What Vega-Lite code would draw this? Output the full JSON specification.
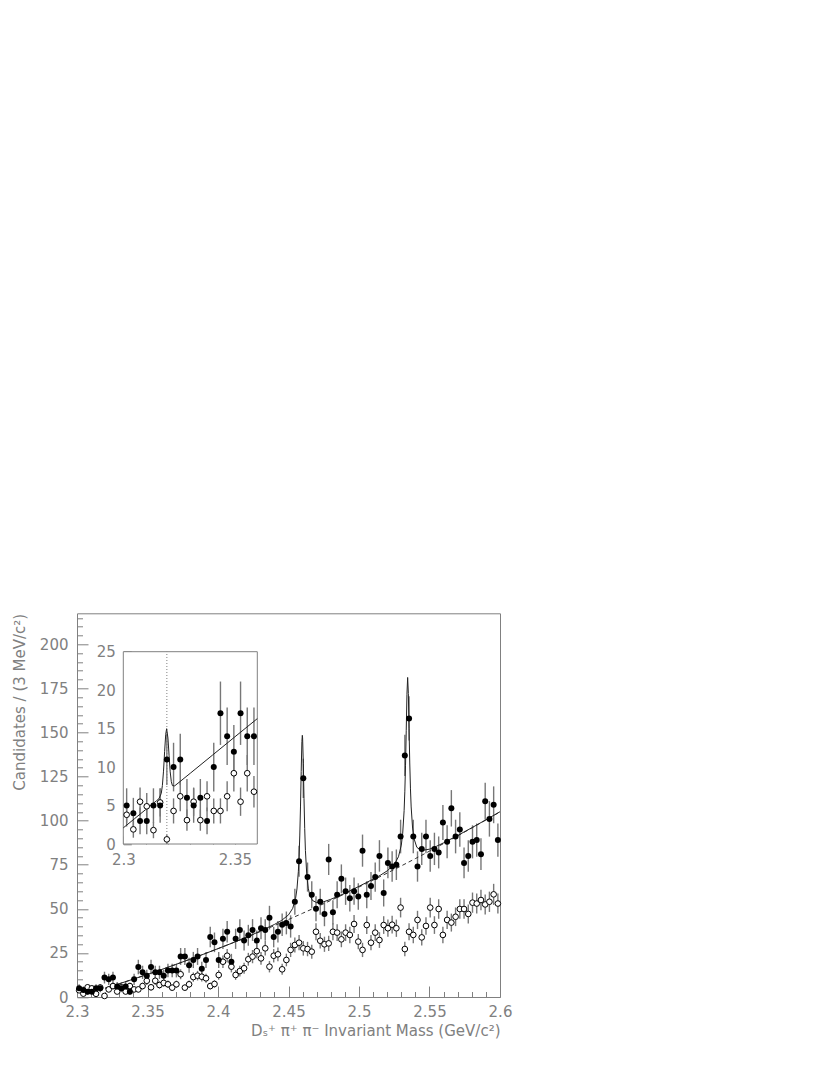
{
  "$schema": "https://vega.github.io/schema/vega-lite/v6.json",
  "width": 423,
  "height": 383.7,
  "autosize": {"type": "none"},
  "padding": {"left": 77, "top": 613.3, "right": 330, "bottom": 78},
  "background": "white",
  "config": {
    "view": {"stroke": "#808080", "strokeWidth": 1},
    "axis": {
      "labelFont": "DejaVu Sans", "labelFontSize": 15, "labelColor": "#808080",
      "titleFont": "DejaVu Sans", "titleFontSize": 15, "titleColor": "#808080", "titleFontWeight": "normal",
      "tickColor": "#808080", "tickWidth": 1, "domain": false, "grid": false, "zindex": 1,
      "labelFlush": false, "labelOverlap": false
    }
  },
  "datasets": {
    "bins": [
      {"m":2.3015,"s":5,"se":2.24,"o":3.8,"oe":1.53},
      {"m":2.3045,"s":4,"se":2,"o":1.9,"oe":1.08},
      {"m":2.3075,"s":3,"se":1.73,"o":5.5,"oe":1.84},
      {"m":2.3105,"s":3,"se":1.73,"o":4.9,"oe":1.74},
      {"m":2.3135,"s":5,"se":2.24,"o":1.8,"oe":1.05},
      {"m":2.3165,"s":5,"se":2.24,"o":5.4,"oe":1.82},
      {"m":2.3195,"s":11,"se":3.32,"o":0.6,"oe":0.61},
      {"m":2.3225,"s":10,"se":3.16,"o":4.3,"oe":1.63},
      {"m":2.3255,"s":11,"se":3.32,"o":6.2,"oe":1.95},
      {"m":2.3285,"s":6,"se":2.45,"o":3.1,"oe":1.38},
      {"m":2.3315,"s":5,"se":2.24,"o":5.5,"oe":1.84},
      {"m":2.3345,"s":6,"se":2.45,"o":3.1,"oe":1.38},
      {"m":2.3375,"s":3,"se":1.73,"o":6.2,"oe":1.95},
      {"m":2.3405,"s":10,"se":3.16,"o":4.3,"oe":1.63},
      {"m":2.3435,"s":17,"se":4.12,"o":4.3,"oe":1.63},
      {"m":2.3465,"s":14,"se":3.74,"o":6.2,"oe":1.95},
      {"m":2.3495,"s":12,"se":3.46,"o":9.2,"oe":2.38},
      {"m":2.3525,"s":17,"se":4.12,"o":5.5,"oe":1.84},
      {"m":2.3555,"s":14,"se":3.74,"o":9.2,"oe":2.38},
      {"m":2.3585,"s":14,"se":3.74,"o":6.8,"oe":2.05},
      {"m":2.3615,"s":12,"se":3.46,"o":8,"oe":2.22},
      {"m":2.3645,"s":15,"se":3.87,"o":7.2,"oe":2.1},
      {"m":2.3675,"s":15,"se":3.87,"o":5.3,"oe":1.81},
      {"m":2.3705,"s":15,"se":3.87,"o":7.2,"oe":2.1},
      {"m":2.3735,"s":23,"se":4.8,"o":12.9,"oe":2.82},
      {"m":2.3765,"s":23,"se":4.8,"o":5.3,"oe":1.81},
      {"m":2.3795,"s":18,"se":4.24,"o":7.2,"oe":2.1},
      {"m":2.3825,"s":21,"se":4.58,"o":11.3,"oe":2.64},
      {"m":2.3855,"s":23,"se":4.8,"o":12.1,"oe":2.73},
      {"m":2.3885,"s":16,"se":4,"o":11.5,"oe":2.66},
      {"m":2.3915,"s":21,"se":4.58,"o":10.6,"oe":2.55},
      {"m":2.3945,"s":34,"se":5.83,"o":6.2,"oe":1.95},
      {"m":2.3975,"s":31,"se":5.57,"o":7.4,"oe":2.13},
      {"m":2.4005,"s":21,"se":4.58,"o":12.5,"oe":2.77},
      {"m":2.4035,"s":33,"se":5.74,"o":20,"oe":3.51},
      {"m":2.4065,"s":37,"se":6.08,"o":23.4,"oe":3.79},
      {"m":2.4095,"s":20,"se":4.47,"o":17.2,"oe":3.25},
      {"m":2.4125,"s":33,"se":5.74,"o":12.5,"oe":2.77},
      {"m":2.4155,"s":38,"se":6.16,"o":14.7,"oe":3.01},
      {"m":2.4185,"s":32,"se":5.66,"o":16.3,"oe":3.17},
      {"m":2.4215,"s":35,"se":5.92,"o":21.4,"oe":3.63},
      {"m":2.4245,"s":38,"se":6.16,"o":22.9,"oe":3.75},
      {"m":2.4275,"s":32,"se":5.66,"o":26,"oe":4},
      {"m":2.4305,"s":39,"se":6.24,"o":21.9,"oe":3.67},
      {"m":2.4335,"s":38,"se":6.16,"o":27.6,"oe":4.12},
      {"m":2.4365,"s":45,"se":6.71,"o":17.2,"oe":3.25},
      {"m":2.4395,"s":34,"se":5.83,"o":23.4,"oe":3.79},
      {"m":2.4425,"s":37,"se":6.08,"o":24.2,"oe":3.86},
      {"m":2.4455,"s":41,"se":6.4,"o":15.7,"oe":3.11},
      {"m":2.4485,"s":42,"se":6.48,"o":21,"oe":3.59},
      {"m":2.4515,"s":40,"se":6.32,"o":26.7,"oe":4.05},
      {"m":2.4545,"s":54,"se":7.35,"o":29.5,"oe":4.26},
      {"m":2.4575,"s":77,"se":8.77,"o":30.8,"oe":4.35},
      {"m":2.4605,"s":124,"se":11.14,"o":27.6,"oe":4.12},
      {"m":2.4635,"s":68,"se":8.25,"o":27.2,"oe":4.09},
      {"m":2.4665,"s":58,"se":7.62,"o":25.7,"oe":3.98},
      {"m":2.4695,"s":50,"se":7.07,"o":37,"oe":4.77},
      {"m":2.4725,"s":54,"se":7.35,"o":31.9,"oe":4.43},
      {"m":2.4755,"s":47,"se":6.86,"o":29.9,"oe":4.29},
      {"m":2.4785,"s":78,"se":8.83,"o":30.4,"oe":4.32},
      {"m":2.4815,"s":48,"se":6.93,"o":37,"oe":4.77},
      {"m":2.4845,"s":58,"se":7.62,"o":36.5,"oe":4.74},
      {"m":2.4875,"s":67,"se":8.19,"o":32.7,"oe":4.48},
      {"m":2.4905,"s":60,"se":7.75,"o":36.5,"oe":4.74},
      {"m":2.4935,"s":56,"se":7.48,"o":35.2,"oe":4.65},
      {"m":2.4965,"s":60,"se":7.75,"o":41.4,"oe":5.05},
      {"m":2.4995,"s":57,"se":7.55,"o":31.4,"oe":4.39},
      {"m":2.5025,"s":83,"se":9.11,"o":26.7,"oe":4.05},
      {"m":2.5055,"s":58,"se":7.62,"o":40.8,"oe":5.01},
      {"m":2.5085,"s":63,"se":7.94,"o":30.8,"oe":4.35},
      {"m":2.5115,"s":68,"se":8.25,"o":36.5,"oe":4.74},
      {"m":2.5145,"s":80,"se":8.94,"o":32.3,"oe":4.46},
      {"m":2.5175,"s":59,"se":7.68,"o":40.8,"oe":5.01},
      {"m":2.5205,"s":76,"se":8.72,"o":39,"oe":4.9},
      {"m":2.5235,"s":74,"se":8.6,"o":41,"oe":5.02},
      {"m":2.5265,"s":75,"se":8.66,"o":39,"oe":4.9},
      {"m":2.5295,"s":91,"se":9.54,"o":50.7,"oe":5.58},
      {"m":2.5325,"s":137,"se":11.7,"o":27.2,"oe":4.09},
      {"m":2.5355,"s":158,"se":12.57,"o":37,"oe":4.77},
      {"m":2.5385,"s":91,"se":9.54,"o":35.2,"oe":4.65},
      {"m":2.5415,"s":74,"se":8.6,"o":43.7,"oe":5.18},
      {"m":2.5445,"s":84,"se":9.17,"o":33.8,"oe":4.56},
      {"m":2.5475,"s":91,"se":9.54,"o":40.3,"oe":4.98},
      {"m":2.5505,"s":80,"se":8.94,"o":50.7,"oe":5.58},
      {"m":2.5535,"s":84,"se":9.17,"o":40.8,"oe":5.01},
      {"m":2.5565,"s":82,"se":9.06,"o":49.9,"oe":5.54},
      {"m":2.5595,"s":99,"se":9.95,"o":35.2,"oe":4.65},
      {"m":2.5625,"s":88,"se":9.38,"o":43.7,"oe":5.18},
      {"m":2.5655,"s":107,"se":10.34,"o":42.2,"oe":5.09},
      {"m":2.5685,"s":91,"se":9.54,"o":45.5,"oe":5.29},
      {"m":2.5715,"s":95,"se":9.75,"o":49.9,"oe":5.54},
      {"m":2.5745,"s":76,"se":8.72,"o":49.9,"oe":5.54},
      {"m":2.5775,"s":80,"se":8.94,"o":47.1,"oe":5.38},
      {"m":2.5805,"s":88,"se":9.38,"o":53.5,"oe":5.74},
      {"m":2.5835,"s":89,"se":9.43,"o":53,"oe":5.71},
      {"m":2.5865,"s":81,"se":9,"o":55,"oe":5.82},
      {"m":2.5895,"s":111,"se":10.54,"o":52.5,"oe":5.68},
      {"m":2.5925,"s":101,"se":10.05,"o":54,"oe":5.76},
      {"m":2.5955,"s":109,"se":10.44,"o":58.2,"oe":5.98},
      {"m":2.5985,"s":89,"se":9.43,"o":53,"oe":5.71}
    ],
    "fit": [
      {"m":2.32,"f":5.0},{"m":2.33,"f":7.53},{"m":2.34,"f":10.15},{"m":2.35,"f":12.83},
      {"m":2.36,"f":15.6},{"m":2.37,"f":18.44},{"m":2.38,"f":21.36},{"m":2.39,"f":24.35},
      {"m":2.4,"f":27.43},{"m":2.41,"f":30.57},{"m":2.42,"f":33.8},{"m":2.43,"f":37.39},
      {"m":2.44,"f":41.14},{"m":2.445,"f":43.37},{"m":2.45,"f":46.56},{"m":2.453,"f":50.29},
      {"m":2.455,"f":55.79},{"m":2.456,"f":61.26},{"m":2.457,"f":71.26},{"m":2.4575,"f":79.52},
      {"m":2.458,"f":91.32},{"m":2.4585,"f":107.77},{"m":2.459,"f":127.91},{"m":2.4595,"f":144.87},
      {"m":2.4598,"f":148.4},{"m":2.46,"f":146.92},{"m":2.4605,"f":132.45},{"m":2.461,"f":112.47},
      {"m":2.4615,"f":95.45},{"m":2.462,"f":83.13},{"m":2.463,"f":68.75},{"m":2.464,"f":61.71},
      {"m":2.465,"f":58.01},{"m":2.467,"f":54.74},{"m":2.47,"f":53.51},{"m":2.475,"f":54.02},
      {"m":2.48,"f":55.4},{"m":2.49,"f":58.81},{"m":2.5,"f":62.76},{"m":2.51,"f":66.84},
      {"m":2.515,"f":68.97},{"m":2.52,"f":71.54},{"m":2.525,"f":75.21},{"m":2.528,"f":79.53},
      {"m":2.53,"f":86.13},{"m":2.531,"f":92.91},{"m":2.532,"f":105.68},{"m":2.5325,"f":116.35},
      {"m":2.533,"f":131.46},{"m":2.5335,"f":151.28},{"m":2.534,"f":171.66},{"m":2.5345,"f":181.21},
      {"m":2.535,"f":172.08},{"m":2.5355,"f":152.12},{"m":2.536,"f":132.72},{"m":2.5365,"f":118.02},
      {"m":2.537,"f":107.77},{"m":2.538,"f":95.81},{"m":2.539,"f":89.86},{"m":2.541,"f":84.92},
      {"m":2.544,"f":83.08},{"m":2.55,"f":83.83},{"m":2.555,"f":85.5},{"m":2.56,"f":87.43},
      {"m":2.57,"f":91.6},{"m":2.58,"f":95.98},{"m":2.59,"f":100.48},{"m":2.6,"f":105.07}
    ],
    "bkg": [
      {"m":2.32,"b":5.0},{"m":2.33,"b":7.53},{"m":2.34,"b":10.15},{"m":2.35,"b":12.83},
      {"m":2.36,"b":15.6},{"m":2.37,"b":18.44},{"m":2.38,"b":21.36},{"m":2.39,"b":24.35},
      {"m":2.4,"b":27.43},{"m":2.41,"b":30.57},{"m":2.42,"b":33.8},{"m":2.43,"b":37.1},
      {"m":2.44,"b":40.48},{"m":2.45,"b":43.94},{"m":2.46,"b":47.47},{"m":2.47,"b":51.08},
      {"m":2.48,"b":54.77},{"m":2.49,"b":58.53},{"m":2.5,"b":62.37},{"m":2.51,"b":66.29},
      {"m":2.52,"b":70.28},{"m":2.53,"b":74.35},{"m":2.54,"b":78.5},{"m":2.55,"b":82.72},
      {"m":2.56,"b":87.02},{"m":2.57,"b":91.4},{"m":2.58,"b":95.85},{"m":2.59,"b":100.39},
      {"m":2.6,"b":104.99}
    ],
    "ifit": [
      {"m":2.3,"f":2.1},{"m":2.305,"f":3.28},{"m":2.31,"f":4.47},{"m":2.315,"f":5.65},
      {"m":2.316,"f":5.92},{"m":2.317,"f":6.58},{"m":2.3175,"f":7.6},{"m":2.318,"f":9.47},
      {"m":2.3185,"f":12.02},{"m":2.319,"f":14.26},{"m":2.3194,"f":14.99},{"m":2.32,"f":13.76},
      {"m":2.3205,"f":11.48},{"m":2.321,"f":9.38},{"m":2.3215,"f":8.1},{"m":2.322,"f":7.59},
      {"m":2.323,"f":7.56},{"m":2.325,"f":8.02},{"m":2.33,"f":9.2},{"m":2.34,"f":11.57},
      {"m":2.35,"f":13.94},{"m":2.36,"f":16.3}
    ],
    "frame": [{"x0":2.3,"x1":2.36,"y0":0,"y1":25}],
    "thr": [{"m":2.3195,"y0":0,"y1":25}]
  },
  "layer": [
    {
      "layer": [
        {
          "data": {"name": "bins"},
          "mark": {"type": "errorbar", "color": "#777777", "thickness": 1.4},
          "encoding": {
            "x": {"field": "m", "type": "quantitative", "scale": {"domain": [2.3, 2.6], "nice": false, "zero": false},
              "axis": {"orient": "bottom", "values": [2.3, 2.35, 2.4, 2.45, 2.5, 2.55, 2.6], "format": "~g", "ticks": false, "labelPadding": 7,
                "title": "Dₛ⁺ π⁺ π⁻ Invariant Mass (GeV/c²)", "titleAlign": "right", "titleAnchor": "end", "titleX": 423, "titleY": 38, "titleBaseline": "alphabetic"}},
            "y": {"field": "s", "type": "quantitative", "scale": {"domain": [0, 217.6], "nice": false, "zero": false},
              "axis": {"orient": "left", "values": [0, 25, 50, 75, 100, 125, 150, 175, 200], "ticks": false, "labelPadding": 9,
                "title": "Candidates / (3 MeV/c²)", "titleAngle": -90, "titleAlign": "right", "titleX": -53, "titleY": 0, "titleBaseline": "alphabetic"}},
            "yError": {"field": "se"}
          }
        },
        {
          "data": {"name": "bins"},
          "mark": {"type": "errorbar", "color": "#777777", "thickness": 1.4},
          "encoding": {
            "x": {"field": "m", "type": "quantitative", "scale": {"domain": [2.3, 2.6], "nice": false, "zero": false},
              "axis": {"orient": "bottom", "values": [2.3, 2.35, 2.4, 2.45, 2.5, 2.55, 2.6], "labels": false, "tickSize": -11, "title": null}},
            "y": {"field": "o", "type": "quantitative", "scale": {"domain": [0, 217.6], "nice": false, "zero": false},
              "axis": {"orient": "left", "values": [0, 25, 50, 75, 100, 125, 150, 175, 200], "labels": false, "tickSize": -11, "title": null}},
            "yError": {"field": "oe"}
          }
        },
        {
          "data": {"name": "bkg"},
          "mark": {"type": "line", "color": "#333333", "strokeWidth": 1, "strokeDash": [4, 3]},
          "encoding": {
            "x": {"field": "m", "type": "quantitative", "scale": {"domain": [2.3, 2.6], "nice": false, "zero": false},
              "axis": {"orient": "bottom", "values": [2.31, 2.32, 2.33, 2.34, 2.36, 2.37, 2.38, 2.39, 2.41, 2.42, 2.43, 2.44, 2.46, 2.47, 2.48, 2.49, 2.51, 2.52, 2.53, 2.54, 2.56, 2.57, 2.58, 2.59], "labels": false, "tickSize": -5.5, "title": null}},
            "y": {"field": "b", "type": "quantitative", "scale": {"domain": [0, 217.6], "nice": false, "zero": false},
              "axis": {"orient": "left", "values": [5, 10, 15, 20, 30, 35, 40, 45, 55, 60, 65, 70, 80, 85, 90, 95, 105, 110, 115, 120, 130, 135, 140, 145, 155, 160, 165, 170, 180, 185, 190, 195, 205, 210, 215], "labels": false, "tickSize": -5.5, "title": null}}
          }
        },
        {
          "data": {"name": "fit"},
          "mark": {"type": "line", "color": "#222222", "strokeWidth": 1},
          "encoding": {
            "x": {"field": "m", "type": "quantitative", "scale": {"domain": [2.3, 2.6], "nice": false, "zero": false}, "axis": null},
            "y": {"field": "f", "type": "quantitative", "scale": {"domain": [0, 217.6], "nice": false, "zero": false}, "axis": null}
          }
        },
        {
          "data": {"name": "bins"},
          "mark": {"type": "point", "shape": "circle", "filled": true, "fill": "white", "stroke": "black", "strokeWidth": 1, "size": 32, "opacity": 1},
          "encoding": {
            "x": {"field": "m", "type": "quantitative", "scale": {"domain": [2.3, 2.6], "nice": false, "zero": false}, "axis": null},
            "y": {"field": "o", "type": "quantitative", "scale": {"domain": [0, 217.6], "nice": false, "zero": false}, "axis": null}
          }
        },
        {
          "data": {"name": "bins"},
          "mark": {"type": "point", "shape": "circle", "filled": true, "color": "black", "size": 36, "opacity": 1},
          "encoding": {
            "x": {"field": "m", "type": "quantitative", "scale": {"domain": [2.3, 2.6], "nice": false, "zero": false}, "axis": null},
            "y": {"field": "s", "type": "quantitative", "scale": {"domain": [0, 217.6], "nice": false, "zero": false}, "axis": null}
          }
        }
      ],
      "resolve": {"axis": {"x": "independent", "y": "independent"}}
    },
    {
      "layer": [
        {
          "data": {"name": "frame"},
          "mark": {"type": "rect", "fill": "white", "stroke": "#808080", "strokeWidth": 1},
          "encoding": {
            "x": {"field": "x0", "type": "quantitative", "scale": {"domain": [2.3, 2.36], "range": [46.3, 180.3], "nice": false, "zero": false},
              "axis": {"orient": "bottom", "offset": -153, "values": [2.3, 2.35], "format": "~g", "ticks": false, "labelPadding": 8, "title": null}},
            "x2": {"field": "x1"},
            "y": {"field": "y0", "type": "quantitative", "scale": {"domain": [0, 25], "range": [230.7, 38.4], "nice": false, "zero": false},
              "axis": {"orient": "left", "offset": -46.3, "values": [0, 5, 10, 15, 20, 25], "ticks": false, "labelPadding": 8, "title": null}},
            "y2": {"field": "y1"}
          }
        },
        {
          "data": {"name": "thr"},
          "mark": {"type": "rule", "color": "#808080", "strokeWidth": 1, "strokeDash": [1, 2]},
          "encoding": {
            "x": {"field": "m", "type": "quantitative", "scale": {"domain": [2.3, 2.36], "range": [46.3, 180.3], "nice": false, "zero": false},
              "axis": {"orient": "bottom", "offset": -153, "values": [2.3, 2.35], "labels": false, "tickSize": -8, "title": null}},
            "y": {"field": "y0", "type": "quantitative", "scale": {"domain": [0, 25], "range": [230.7, 38.4], "nice": false, "zero": false},
              "axis": {"orient": "left", "offset": -46.3, "values": [0, 5, 10, 15, 20, 25], "labels": false, "tickSize": -8, "title": null}},
            "y2": {"field": "y1"}
          }
        },
        {
          "data": {"name": "bins"},
          "transform": [{"filter": "datum.m < 2.36"}],
          "mark": {"type": "errorbar", "color": "#777777", "thickness": 1.4},
          "encoding": {
            "x": {"field": "m", "type": "quantitative", "scale": {"domain": [2.3, 2.36], "range": [46.3, 180.3], "nice": false, "zero": false},
              "axis": {"orient": "bottom", "offset": -153, "values": [2.31, 2.32, 2.33, 2.34], "labels": false, "tickSize": -4, "title": null}},
            "y": {"field": "s", "type": "quantitative", "scale": {"domain": [0, 25], "range": [230.7, 38.4], "nice": false, "zero": false},
              "axis": {"orient": "left", "offset": -46.3, "values": [1, 2, 3, 4, 6, 7, 8, 9, 11, 12, 13, 14, 16, 17, 18, 19, 21, 22, 23, 24], "labels": false, "tickSize": -4, "title": null}},
            "yError": {"field": "se"}
          }
        },
        {
          "data": {"name": "bins"},
          "transform": [{"filter": "datum.m < 2.36"}],
          "mark": {"type": "errorbar", "color": "#777777", "thickness": 1.4},
          "encoding": {
            "x": {"field": "m", "type": "quantitative", "scale": {"domain": [2.3, 2.36], "range": [46.3, 180.3], "nice": false, "zero": false}, "axis": null},
            "y": {"field": "o", "type": "quantitative", "scale": {"domain": [0, 25], "range": [230.7, 38.4], "nice": false, "zero": false}, "axis": null},
            "yError": {"field": "oe"}
          }
        },
        {
          "data": {"name": "ifit"},
          "mark": {"type": "line", "color": "#222222", "strokeWidth": 1},
          "encoding": {
            "x": {"field": "m", "type": "quantitative", "scale": {"domain": [2.3, 2.36], "range": [46.3, 180.3], "nice": false, "zero": false}, "axis": null},
            "y": {"field": "f", "type": "quantitative", "scale": {"domain": [0, 25], "range": [230.7, 38.4], "nice": false, "zero": false}, "axis": null}
          }
        },
        {
          "data": {"name": "bins"},
          "transform": [{"filter": "datum.m < 2.36"}],
          "mark": {"type": "point", "shape": "circle", "filled": true, "fill": "white", "stroke": "black", "strokeWidth": 1, "size": 32, "opacity": 1},
          "encoding": {
            "x": {"field": "m", "type": "quantitative", "scale": {"domain": [2.3, 2.36], "range": [46.3, 180.3], "nice": false, "zero": false}, "axis": null},
            "y": {"field": "o", "type": "quantitative", "scale": {"domain": [0, 25], "range": [230.7, 38.4], "nice": false, "zero": false}, "axis": null}
          }
        },
        {
          "data": {"name": "bins"},
          "transform": [{"filter": "datum.m < 2.36"}],
          "mark": {"type": "point", "shape": "circle", "filled": true, "color": "black", "size": 36, "opacity": 1},
          "encoding": {
            "x": {"field": "m", "type": "quantitative", "scale": {"domain": [2.3, 2.36], "range": [46.3, 180.3], "nice": false, "zero": false}, "axis": null},
            "y": {"field": "s", "type": "quantitative", "scale": {"domain": [0, 25], "range": [230.7, 38.4], "nice": false, "zero": false}, "axis": null}
          }
        }
      ],
      "resolve": {"axis": {"x": "independent", "y": "independent"}}
    }
  ],
  "resolve": {"scale": {"x": "independent", "y": "independent"}}
}
